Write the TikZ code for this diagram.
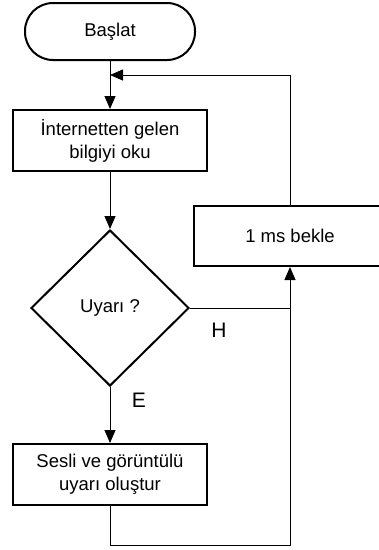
\documentclass[tikz,border=0pt]{standalone}
\usepackage{fontspec}
\setmainfont{Liberation Sans}
\usetikzlibrary{shapes.geometric,arrows.meta}
\begin{document}
\begin{tikzpicture}[x=1pt,y=-1pt,
  every node/.style={font=\fontsize{18.5}{23}\selectfont},
  shapebox/.style={draw,line width=2pt,inner sep=0pt,align=center},
  procbox/.style={shapebox,rectangle,minimum width=194pt,minimum height=61pt},
  termbox/.style={shapebox,rectangle,rounded corners=28pt,minimum width=170pt,minimum height=57pt},
  decbox/.style={shapebox,diamond,minimum width=158pt,minimum height=156pt},
  flow/.style={line width=1pt},
  flowarr/.style={flow,-{Triangle[length=13pt,width=11pt]}},
  lbl/.style={font=\fontsize{21}{24}\selectfont}]
\useasboundingbox (0,0) rectangle (379,550);
\clip (0,0) rectangle (379,550);
\fill[white] (0,0) rectangle (379,550);

\node[termbox] (start) at (110,31.5) {Başlat};
\node[procbox] (read) at (110,140.5) {İnternetten gelen\\bilgiyi oku};
\node[decbox] (warn) at (110,308) {Uyarı ?};
\node[procbox] (alarm) at (110,474.5) {Sesli ve görüntülü\\uyarı oluştur};
\node[shapebox,rectangle,minimum width=192pt,minimum height=60pt] (wait) at (290,236) {1 ms bekle};

\coordinate (loopin) at (110,75);
\coordinate (hjoin) at (290,308);
\coordinate (bottom) at (290,545);

\draw[flowarr] (start.south) -- (read.north);
\draw[flowarr] (wait.north) |- (loopin);
\draw[flowarr] (read.south) -- (warn.north);
\draw[flow] (warn.east) -- (hjoin);
\draw[flowarr] (warn.south) -- (alarm.north);
\draw[flowarr] (alarm.south) |- (bottom) -- (wait.south);

\node[lbl] (hlabel) at (219,330) {H};
\node[lbl] (elabel) at (139,400) {E};
\end{tikzpicture}
\end{document}
